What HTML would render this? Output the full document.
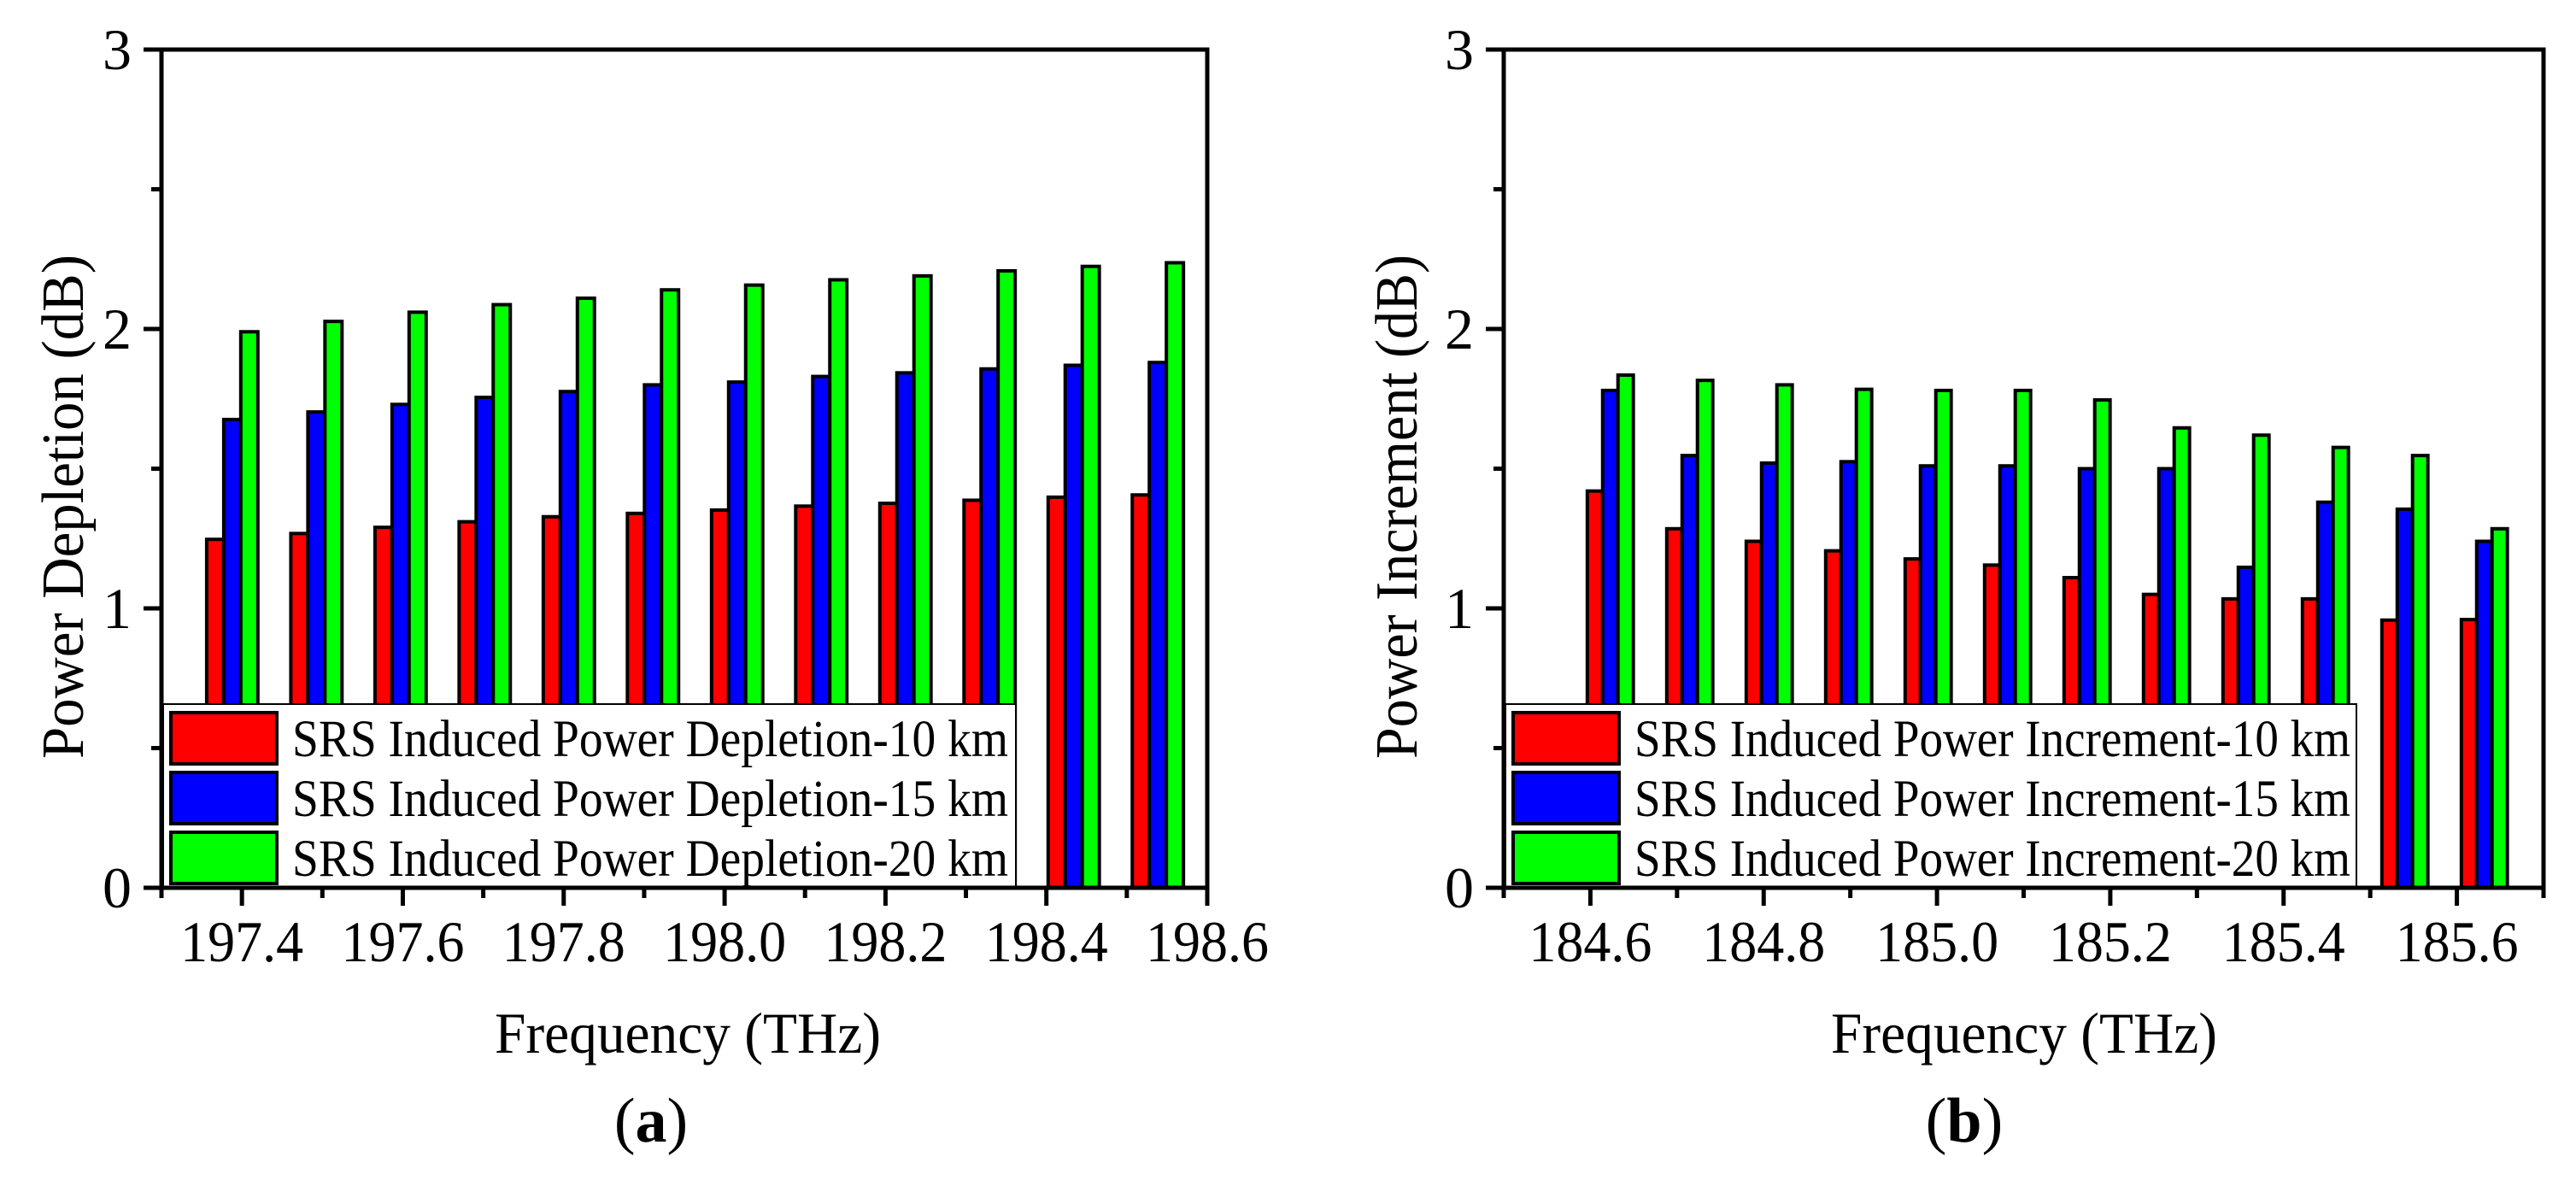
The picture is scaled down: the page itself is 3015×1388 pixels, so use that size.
<!DOCTYPE html>
<html><head><meta charset="utf-8"><style>
html,body{margin:0;padding:0;background:#fff;}
svg{display:block;font-family:"Liberation Serif","DejaVu Serif",serif;}
</style></head><body>
<svg id="fig" width="3015" height="1388" viewBox="0 0 3015 1388" xmlns="http://www.w3.org/2000/svg"></svg>
<script>
// Panel (a) data
const catsA = [0,1,2,3,4,5,6,7,8,9,10,11];
const red10A = [1.247,1.268,1.29,1.31,1.328,1.34,1.352,1.366,1.376,1.387,1.398,1.406];
const blue15A = [1.676,1.703,1.73,1.755,1.776,1.80,1.81,1.83,1.843,1.857,1.87,1.88];
const green20A = [1.99,2.027,2.06,2.087,2.11,2.14,2.157,2.176,2.19,2.208,2.224,2.237];
const xTicksA = ["197.4","197.6","197.8","198.0","198.2","198.4","198.6"];
// Panel (b) data
const catsB = [0,1,2,3,4,5,6,7,8,9,10,11];
const red10B = [1.42,1.285,1.24,1.206,1.177,1.155,1.11,1.05,1.034,1.034,0.958,0.96];
const blue15B = [1.78,1.547,1.52,1.525,1.51,1.51,1.50,1.50,1.147,1.38,1.355,1.24];
const green20B = [1.835,1.816,1.80,1.784,1.78,1.78,1.746,1.646,1.62,1.576,1.547,1.285];
const xTicksB = ["184.6","184.8","185.0","185.2","185.4","185.6"];
const yTicks = ["0","1","2","3"];

const NS="http://www.w3.org/2000/svg";
const svg=document.getElementById('fig');
function mk(tag,attrs,parent){const e=document.createElementNS(NS,tag);for(const k in attrs)e.setAttribute(k,attrs[k]);(parent||svg).appendChild(e);return e;}

function panel(cfg){
  const g=mk('g',{});
  
  
  const L=cfg.L,R=cfg.R,T=58,B=1039;
  const xs=v=>L+(v-cfg.xmin)/(cfg.xmax-cfg.xmin)*(R-L);
  const ys=v=>B-v/3*(B-T);
  const series=[[cfg.red,'#ff0000','bar-10km'],[cfg.blue,'#0000ff','bar-15km'],[cfg.green,'#00ff00','bar-20km']];
  cfg.cats.forEach((c,i)=>{
    const center=cfg.x0+c*cfg.step;
    series.forEach((s,k)=>{
      const x=xs(center+(k-1.5)*cfg.bw);
      const w=xs(center+(k-0.5)*cfg.bw)-x;
      const r=mk('rect',{x:x,y:ys(s[0][i]),width:w,height:ys(0)-ys(s[0][i]),fill:s[1],stroke:'#000','stroke-width':4},g);
      
      
    });
  });
  // legend
  const lg=mk('g',{},g);
  
  
  mk('rect',{x:L+2,y:824,width:cfg.legW,height:B-824,fill:'#fff',stroke:'#000','stroke-width':2},lg);
  const labs=[cfg.lab+'-10 km',cfg.lab+'-15 km',cfg.lab+'-20 km'];
  const cols=['#ff0000','#0000ff','#00ff00'];
  labs.forEach((t,k)=>{
    const y0=834+k*70;
    const sw=mk('rect',{x:L+11,y:y0,width:124,height:60,fill:cols[k],stroke:'#000','stroke-width':4},lg);
    
    
    const tx=mk('text',{x:L+153,y:y0+51,'font-size':61,textLength:838,lengthAdjust:'spacingAndGlyphs'},lg);
    tx.textContent=t;
    
    
  });
  // frame
  const fr=mk('rect',{x:L,y:T,width:R-L,height:B-T,fill:'none',stroke:'#000','stroke-width':5},g);
  
  
  // y ticks
  for(let v=0;v<=3;v+=0.5){
    const maj=Number.isInteger(v);
    mk('line',{x1:L-(maj?21:12),x2:L,y1:ys(v),y2:ys(v),stroke:'#000','stroke-width':5},g);
  }
  yTicks.forEach(t=>{
    const tx=mk('text',{x:L-35,y:ys(+t)+23,'font-size':68,'text-anchor':'end'},g);
    tx.textContent=t;
    
    
  });
  // x ticks
  for(let v=cfg.xmin;v<=cfg.xmax+1e-6;v+=0.1){
    const n=Math.round(v*10);
    const maj=(n%2===0);
    mk('line',{x1:xs(v),x2:xs(v),y1:B,y2:B+(maj?21:12),stroke:'#000','stroke-width':5},g);
  }
  cfg.xt.forEach(t=>{
    const tx=mk('text',{x:xs(+t),y:1125,'font-size':68,'text-anchor':'middle',textLength:144,lengthAdjust:'spacingAndGlyphs'},g);
    tx.textContent=t;
    
    
  });
  const xt=mk('text',{x:cfg.xtx,y:1232,'font-size':68,'text-anchor':'middle',textLength:452,lengthAdjust:'spacingAndGlyphs'},g);
  xt.textContent='Frequency (THz)';
  
  
  const yt=mk('text',{x:0,y:0,'font-size':70,'text-anchor':'middle',textLength:590,lengthAdjust:'spacingAndGlyphs',transform:'translate('+(cfg.ytx+24)+',593) rotate(-90)'},g);
  yt.textContent=cfg.ytitle;
  
  
  const pl=mk('text',{x:cfg.ptx,y:1336,'font-size':74,'text-anchor':'middle'},g);
  pl.innerHTML='(<tspan font-weight="bold">'+cfg.pl+'</tspan>)';
  
  
}

panel({name:'chart-a',L:189,R:1413,xmin:197.3,xmax:198.6,x0:197.388,step:0.1046,bw:0.0212,
  cats:catsA,red:red10A,blue:blue15A,green:green20A,xt:xTicksA,legW:998,
  lab:'SRS Induced Power Depletion',ytitle:'Power Depletion (dB)',ytx:73,xtx:805,ptx:762,pl:'a'});
panel({name:'chart-b',L:1760,R:2977,xmin:184.5,xmax:185.7,x0:184.623,step:0.0917,bw:0.0177,
  cats:catsB,red:red10B,blue:blue15B,green:green20B,xt:xTicksB,legW:996,
  lab:'SRS Induced Power Increment',ytitle:'Power Increment (dB)',ytx:1634,xtx:2369,ptx:2299,pl:'b'});
</script>
</body></html>
